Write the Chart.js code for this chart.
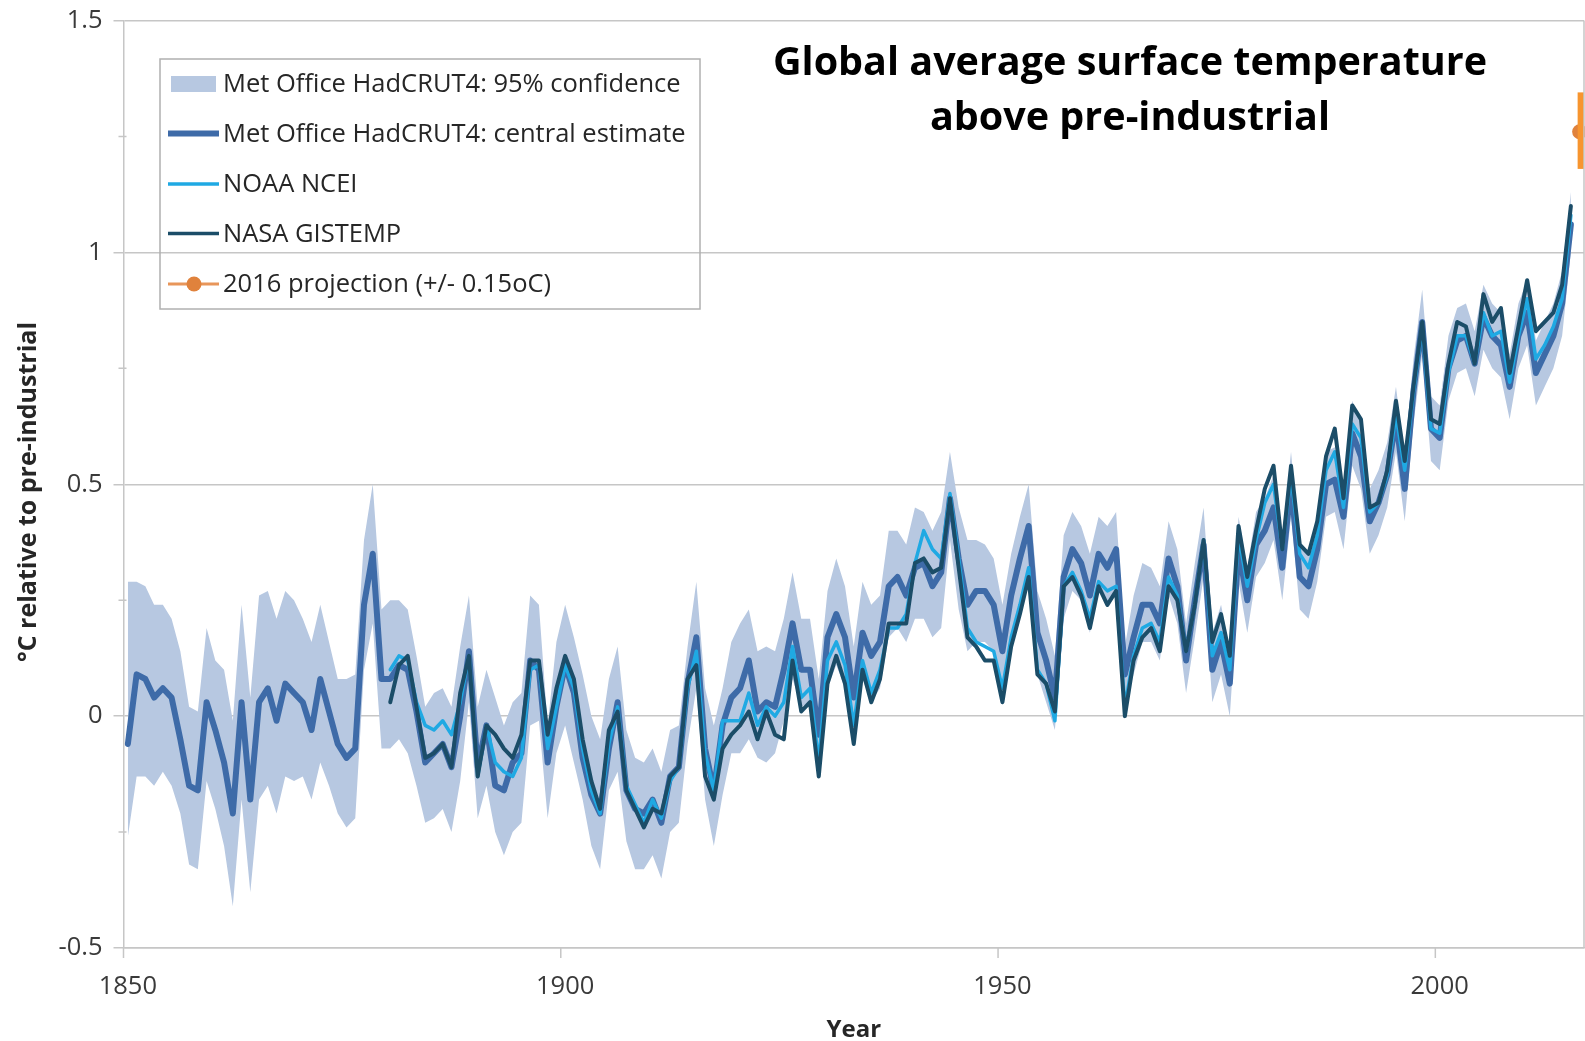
<!DOCTYPE html>
<html>
<head>
<meta charset="utf-8">
<script src="https://cdn.jsdelivr.net/npm/chart.js@4.4.1/dist/chart.umd.min.js"></script>
<style>
  html, body { margin: 0; padding: 0; background: #ffffff; }
  #wrap { width: 1585px; height: 1041px; position: relative; }
  canvas { display: block; }
</style>
</head>
<body>
<div id="wrap"><canvas id="chart" width="1585" height="1041"></canvas></div>
<script>
// Years on the category axis (one slot per year, 1850–2016)
const firstYear = 1850;
const lastYear = 2016;
const years = [];
for (let yr = firstYear; yr <= lastYear; yr++) years.push(yr);

// Met Office HadCRUT4 central estimate, 1850–2015 (°C above pre-industrial)
const hadcrutCentral = [
  -0.06, 0.09, 0.08, 0.04, 0.06, 0.04, -0.05, -0.15, -0.16, 0.03,
  -0.03, -0.10, -0.21, 0.03, -0.18, 0.03, 0.06, -0.01, 0.07, 0.05,
  0.03, -0.03, 0.08, 0.01, -0.06, -0.09, -0.07, 0.24, 0.35, 0.08,
  0.08, 0.11, 0.10, 0.01, -0.10, -0.08, -0.06, -0.11, 0.00, 0.14,
  -0.11, -0.02, -0.15, -0.16, -0.10, -0.08, 0.12, 0.10, -0.10, 0.02,
  0.11, 0.05, -0.09, -0.17, -0.21, -0.07, 0.03, -0.16, -0.20, -0.21,
  -0.18, -0.23, -0.13, -0.11, 0.07, 0.17, -0.07, -0.16, -0.02, 0.04,
  0.06, 0.12, 0.01, 0.03, 0.02, 0.10, 0.20, 0.10, 0.10, -0.04,
  0.17, 0.22, 0.17, 0.04, 0.18, 0.13, 0.16, 0.28, 0.30, 0.26,
  0.32, 0.33, 0.28, 0.31, 0.47, 0.34, 0.24, 0.27, 0.27, 0.24,
  0.14, 0.26, 0.34, 0.41, 0.18, 0.12, 0.04, 0.30, 0.36, 0.33,
  0.26, 0.35, 0.32, 0.36, 0.09, 0.17, 0.24, 0.24, 0.20, 0.34,
  0.28, 0.12, 0.25, 0.37, 0.10, 0.16, 0.07, 0.36, 0.25, 0.37,
  0.40, 0.45, 0.32, 0.50, 0.30, 0.28, 0.36, 0.50, 0.51, 0.43,
  0.61, 0.56, 0.42, 0.46, 0.52, 0.64, 0.49, 0.70, 0.85, 0.62,
  0.60, 0.75, 0.81, 0.82, 0.76, 0.86, 0.82, 0.80, 0.71, 0.82,
  0.87, 0.74, 0.78, 0.82, 0.89, 1.06
];

// HadCRUT4 95% confidence range, upper and lower bounds, 1850–2015
const hadcrutUpper = [
  0.29, 0.29, 0.28, 0.24, 0.24, 0.21, 0.14, 0.02, 0.01, 0.19,
  0.12, 0.10, -0.01, 0.24, 0.04, 0.26, 0.27, 0.21, 0.27, 0.25,
  0.21, 0.16, 0.24, 0.16, 0.08, 0.08, 0.09, 0.38, 0.50, 0.23,
  0.25, 0.25, 0.23, 0.13, 0.02, 0.05, 0.06, 0.02, 0.15, 0.26,
  0.02, 0.10, 0.04, -0.02, 0.03, 0.05, 0.26, 0.24, -0.02, 0.16,
  0.24, 0.17, 0.09, 0.00, -0.05, 0.08, 0.15, -0.03, -0.09, -0.10,
  -0.07, -0.12, -0.03, -0.02, 0.15, 0.29, 0.06, -0.02, 0.06, 0.16,
  0.20, 0.23, 0.14, 0.15, 0.14, 0.21, 0.31, 0.21, 0.21, 0.08,
  0.27, 0.34, 0.28, 0.15, 0.29, 0.24, 0.26, 0.40, 0.40, 0.37,
  0.45, 0.44, 0.40, 0.44, 0.57, 0.45, 0.38, 0.38, 0.37, 0.34,
  0.24, 0.35, 0.43, 0.50, 0.27, 0.21, 0.13, 0.39, 0.44, 0.41,
  0.35, 0.43, 0.41, 0.44, 0.15, 0.26, 0.33, 0.32, 0.28, 0.42,
  0.36, 0.20, 0.33, 0.45, 0.18, 0.24, 0.14, 0.43, 0.32, 0.44,
  0.47, 0.52, 0.39, 0.57, 0.37, 0.35, 0.43, 0.57, 0.58, 0.50,
  0.68, 0.63, 0.49, 0.53, 0.59, 0.71, 0.56, 0.77, 0.92, 0.69,
  0.67, 0.82, 0.88, 0.89, 0.83, 0.93, 0.89, 0.87, 0.78, 0.89,
  0.94, 0.81, 0.85, 0.89, 0.96, 1.13
];
const hadcrutLower = [
  -0.26, -0.13, -0.13, -0.15, -0.12, -0.15, -0.21, -0.32, -0.33, -0.14,
  -0.20, -0.28, -0.41, -0.18, -0.38, -0.18, -0.15, -0.21, -0.13, -0.14,
  -0.13, -0.18, -0.10, -0.15, -0.21, -0.24, -0.22, 0.10, 0.20, -0.07,
  -0.07, -0.05, -0.08, -0.15, -0.23, -0.22, -0.20, -0.25, -0.14, 0.03,
  -0.22, -0.15, -0.25, -0.30, -0.25, -0.23, -0.02, -0.01, -0.22, -0.08,
  -0.02, -0.10, -0.18, -0.28, -0.33, -0.16, -0.12, -0.27, -0.33, -0.33,
  -0.30, -0.35, -0.25, -0.23, -0.06, 0.06, -0.18, -0.28, -0.17, -0.08,
  -0.08, -0.05, -0.09, -0.10, -0.08, -0.01, 0.08, 0.02, 0.03, -0.13,
  0.06, 0.11, 0.06, -0.06, 0.08, 0.03, 0.06, 0.17, 0.19, 0.16,
  0.21, 0.21, 0.17, 0.19, 0.38, 0.23, 0.14, 0.16, 0.16, 0.14,
  0.05, 0.16, 0.24, 0.32, 0.09, 0.03, -0.03, 0.21, 0.27, 0.25,
  0.18, 0.27, 0.24, 0.28, 0.02, 0.09, 0.16, 0.16, 0.12, 0.26,
  0.20, 0.05, 0.17, 0.30, 0.03, 0.09, 0.00, 0.29, 0.18, 0.30,
  0.33, 0.38, 0.25, 0.43, 0.23, 0.21, 0.29, 0.43, 0.44, 0.36,
  0.54, 0.49, 0.35, 0.39, 0.45, 0.57, 0.42, 0.63, 0.78, 0.55,
  0.53, 0.68, 0.74, 0.75, 0.69, 0.79, 0.75, 0.73, 0.64, 0.75,
  0.80, 0.67, 0.71, 0.75, 0.82, 1.00
];

// NOAA NCEI, 1880–2015
const noaaStart = 1880;
const noaaNcei = [
  0.10, 0.13, 0.12, 0.03, -0.02, -0.03, -0.01, -0.04, 0.03, 0.13,
  -0.13, -0.02, -0.10, -0.12, -0.13, -0.09, 0.10, 0.11, -0.07, 0.02,
  0.11, 0.06, -0.07, -0.16, -0.21, -0.06, 0.02, -0.15, -0.19, -0.23,
  -0.18, -0.22, -0.14, -0.11, 0.06, 0.14, -0.08, -0.16, -0.01, -0.01,
  -0.01, 0.05, -0.02, 0.02, 0.00, 0.03, 0.15, 0.04, 0.06, -0.10,
  0.12, 0.16, 0.11, -0.02, 0.12, 0.05, 0.10, 0.19, 0.19, 0.22,
  0.33, 0.40, 0.36, 0.34, 0.48, 0.34, 0.19, 0.16, 0.15, 0.14,
  0.06, 0.17, 0.24, 0.32, 0.10, 0.07, -0.01, 0.28, 0.31, 0.27,
  0.21, 0.29, 0.27, 0.28, 0.02, 0.13, 0.19, 0.20, 0.16, 0.30,
  0.26, 0.14, 0.24, 0.38, 0.13, 0.18, 0.10, 0.39, 0.28, 0.38,
  0.46, 0.50, 0.36, 0.52, 0.35, 0.32, 0.39, 0.53, 0.57, 0.45,
  0.63, 0.60, 0.44, 0.46, 0.52, 0.65, 0.53, 0.70, 0.84, 0.62,
  0.61, 0.74, 0.82, 0.82, 0.76, 0.87, 0.82, 0.83, 0.72, 0.82,
  0.90, 0.77, 0.80, 0.84, 0.90, 1.08
];

// NASA GISTEMP, 1880–2015
const nasaStart = 1880;
const nasaGistemp = [
  0.03, 0.11, 0.13, 0.02, -0.09, -0.08, -0.06, -0.11, 0.05, 0.13,
  -0.13, -0.02, -0.04, -0.07, -0.09, -0.04, 0.12, 0.12, -0.04, 0.06,
  0.13, 0.08, -0.05, -0.14, -0.20, -0.03, 0.01, -0.16, -0.20, -0.24,
  -0.20, -0.21, -0.13, -0.11, 0.08, 0.11, -0.13, -0.18, -0.07, -0.04,
  -0.02, 0.01, -0.05, 0.01, -0.04, -0.05, 0.12, 0.01, 0.03, -0.13,
  0.07, 0.13, 0.07, -0.06, 0.10, 0.03, 0.08, 0.20, 0.20, 0.20,
  0.33, 0.34, 0.31, 0.32, 0.47, 0.32, 0.17, 0.15, 0.12, 0.12,
  0.03, 0.15, 0.22, 0.30, 0.09, 0.07, 0.01, 0.28, 0.30, 0.26,
  0.19, 0.28, 0.24, 0.27, 0.00, 0.12, 0.17, 0.19, 0.14, 0.28,
  0.25, 0.14, 0.24, 0.38, 0.16, 0.22, 0.13, 0.41, 0.30, 0.40,
  0.49, 0.54, 0.36, 0.54, 0.37, 0.35, 0.42, 0.56, 0.62, 0.47,
  0.67, 0.64, 0.45, 0.46, 0.53, 0.68, 0.55, 0.71, 0.85, 0.64,
  0.63, 0.76, 0.85, 0.84, 0.76, 0.91, 0.85, 0.88, 0.74, 0.84,
  0.94, 0.83, 0.85, 0.87, 0.93, 1.10
];

// 2016 projection and its drawn range
const projectionYear = 2016;
const projectionValue = 1.26;
const projectionLow = 1.18;
const projectionHigh = 1.345;

// Axis ticks
const yTicks = [-0.5, 0, 0.5, 1, 1.5];
const yMinorTicks = [-0.25, 0.25, 0.75, 1.25];
const xTickYears = [1850, 1900, 1950, 2000];

const titleLines = ['Global average surface temperature', 'above pre-industrial'];
const xTitle = 'Year';
const yTitle = '\u00B0C relative to pre-industrial';

// Colours
const bandColor = '#b7c8e1';
const hadColor = '#3e6ba8';
const noaaColor = '#1fa9e3';
const nasaColor = '#1b4d68';
const projColor = '#e0823c';
const projBarColor = '#f7952f';
const gridColor = '#c6c6c6';
const textColor = '#3a3a3a';

// Series aligned to the year categories
const alignFrom = (start, arr) => years.map(yr => (yr >= start && yr - start < arr.length) ? arr[yr - start] : null);
const hadSeries = alignFrom(firstYear, hadcrutCentral);
const upperSeries = alignFrom(firstYear, hadcrutUpper);
const lowerSeries = alignFrom(firstYear, hadcrutLower);
const noaaSeries = alignFrom(noaaStart, noaaNcei);
const nasaSeries = alignFrom(nasaStart, nasaGistemp);
const projSeries = years.map(yr => yr === projectionYear ? projectionValue : null);

const FONT = '"Open Sans", "Noto Sans", sans-serif';

// Extra drawing: title, legend, tick marks, axis titles, projection range bar
const decor = {
  id: 'decor',
  afterDatasetsDraw(chart) {
    const { ctx, chartArea: a, scales: { x, y } } = chart;
    const px = x.getPixelForValue(years.indexOf(projectionYear));
    const yTop = y.getPixelForValue(projectionHigh);
    const yBot = y.getPixelForValue(projectionLow);
    ctx.save();
    ctx.beginPath();
    ctx.rect(a.left, a.top, a.right - a.left, a.bottom - a.top);
    ctx.clip();
    ctx.fillStyle = projBarColor;
    ctx.fillRect(px - 2, yTop, 8, yBot - yTop);
    ctx.restore();
  },
  afterDraw(chart) {
    const { ctx, chartArea: a, scales: { x, y } } = chart;
    ctx.save();

    // right-hand frame line
    ctx.strokeStyle = gridColor;
    ctx.lineWidth = 1.5;
    ctx.beginPath();
    ctx.moveTo(a.right, a.top);
    ctx.lineTo(a.right, a.bottom);
    ctx.stroke();

    // x tick marks on the category boundaries
    const half = (x.getPixelForValue(1) - x.getPixelForValue(0)) / 2;
    ctx.beginPath();
    xTickYears.forEach(yr => {
      const bx = x.getPixelForValue(years.indexOf(yr)) - half;
      ctx.moveTo(bx, a.bottom);
      ctx.lineTo(bx, a.bottom + 10);
    });
    // minor y tick marks
    yMinorTicks.forEach(v => {
      const py = y.getPixelForValue(v);
      ctx.moveTo(a.left - 5, py);
      ctx.lineTo(a.left + 3, py);
    });
    ctx.stroke();

    // title
    ctx.fillStyle = '#000000';
    ctx.textAlign = 'center';
    ctx.textBaseline = 'middle';
    ctx.font = 'bold 39.5px ' + FONT;
    ctx.fillText(titleLines[0], 1130, 64);
    ctx.fillText(titleLines[1], 1130, 119);

    // axis titles
    ctx.fillStyle = '#262626';
    ctx.font = 'bold 24px ' + FONT;
    ctx.fillText(xTitle, (a.left + a.right) / 2, 1030);
    ctx.save();
    ctx.translate(29, 492);
    ctx.rotate(-Math.PI / 2);
    ctx.font = 'bold 25px ' + FONT;
    ctx.fillText(yTitle, 0, 0);
    ctx.restore();

    // legend
    const box = { l: 160, t: 59, r: 700, b: 309 };
    ctx.strokeStyle = '#b0b0b0';
    ctx.lineWidth = 1.5;
    ctx.strokeRect(box.l, box.t, box.r - box.l, box.b - box.t);
    const ds = chart.data.datasets;
    const rows = [
      { label: ds[5].label, kind: 'band', color: bandColor },
      { label: ds[3].label, kind: 'line', color: hadColor, w: 6 },
      { label: ds[2].label, kind: 'line', color: noaaColor, w: 3.5 },
      { label: ds[1].label, kind: 'line', color: nasaColor, w: 3.5 },
      { label: ds[0].label, kind: 'marker', color: projColor, w: 3 }
    ];
    const rowY = [84, 133.5, 184, 233.5, 284];
    ctx.font = '25.5px ' + FONT;
    ctx.textAlign = 'left';
    rows.forEach((r, i) => {
      const cy = rowY[i];
      if (r.kind === 'band') {
        ctx.fillStyle = r.color;
        ctx.fillRect(171, cy - 8, 45, 16);
      } else {
        ctx.strokeStyle = r.kind === 'marker' ? '#e8965a' : r.color;
        ctx.lineWidth = r.w;
        ctx.beginPath();
        ctx.moveTo(168, cy);
        ctx.lineTo(219, cy);
        ctx.stroke();
        if (r.kind === 'marker') {
          ctx.fillStyle = r.color;
          ctx.beginPath();
          ctx.arc(194, cy, 7.5, 0, Math.PI * 2);
          ctx.fill();
        }
      }
      ctx.fillStyle = '#262626';
      ctx.fillText(r.label, 223, cy + 1);
    });

    ctx.restore();
  }
};

new Chart(document.getElementById('chart'), {
  type: 'line',
  data: {
    labels: years,
    datasets: [
      {
        label: '2016 projection (+/- 0.15oC)',
        data: projSeries,
        order: 0,
        borderColor: projColor,
        backgroundColor: projColor,
        pointRadius: 7.5,
        pointHoverRadius: 7.5,
        pointBorderWidth: 0,
        showLine: false
      },
      {
        label: 'NASA GISTEMP',
        data: nasaSeries,
        order: 1,
        borderColor: nasaColor,
        borderWidth: 4,
        pointRadius: 0,
        tension: 0
      },
      {
        label: 'NOAA NCEI',
        data: noaaSeries,
        order: 2,
        borderColor: noaaColor,
        borderWidth: 3.5,
        pointRadius: 0,
        tension: 0
      },
      {
        label: 'Met Office HadCRUT4: central estimate',
        data: hadSeries,
        order: 3,
        borderColor: hadColor,
        borderWidth: 6,
        pointRadius: 0,
        tension: 0
      },
      {
        label: 'HadCRUT4 upper bound',
        data: upperSeries,
        order: 4,
        borderWidth: 0,
        borderColor: 'rgba(0,0,0,0)',
        backgroundColor: bandColor,
        pointRadius: 0,
        tension: 0,
        fill: '+1'
      },
      {
        label: 'Met Office HadCRUT4: 95% confidence',
        data: lowerSeries,
        order: 5,
        borderWidth: 0,
        borderColor: 'rgba(0,0,0,0)',
        pointRadius: 0,
        tension: 0,
        fill: false
      }
    ]
  },
  options: {
    responsive: false,
    animation: false,
    layout: { autoPadding: false, padding: { top: 20.5, right: 1, left: 0, bottom: 0 } },
    plugins: {
      legend: { display: false },
      title: { display: false },
      tooltip: { enabled: false }
    },
    elements: { line: { borderJoinStyle: 'round', borderCapStyle: 'round' } },
    scales: {
      x: {
        type: 'category',
        offset: true,
        grid: {
          display: true,
          drawOnChartArea: false,
          drawTicks: true,
          tickLength: 23,
          color: 'rgba(0,0,0,0)'
        },
        border: { display: true, color: gridColor, width: 1.5 },
        ticks: {
          autoSkip: false,
          maxRotation: 0,
          minRotation: 0,
          padding: 0,
          color: textColor,
          font: { family: FONT, size: 25.5 },
          callback: function (val, idx) {
            return xTickYears.includes(years[idx]) ? String(years[idx]) : null;
          }
        },
        afterFit: s => { s.height = 93; s.paddingLeft = 0; s.paddingRight = 0; }
      },
      y: {
        type: 'linear',
        min: -0.5,
        max: 1.5,
        afterBuildTicks: s => { s.ticks = yTicks.map(v => ({ value: v })); },
        grid: { color: gridColor, lineWidth: 1.5, tickLength: 10 },
        border: { display: true, color: gridColor, width: 1.5 },
        ticks: {
          padding: 11,
          color: textColor,
          font: { family: FONT, size: 25.5 },
          callback: v => String(v)
        },
        afterFit: s => { s.width = 123.5; s.paddingTop = 0; s.paddingBottom = 0; }
      }
    }
  },
  plugins: [decor]
});
</script>
</body>
</html>
